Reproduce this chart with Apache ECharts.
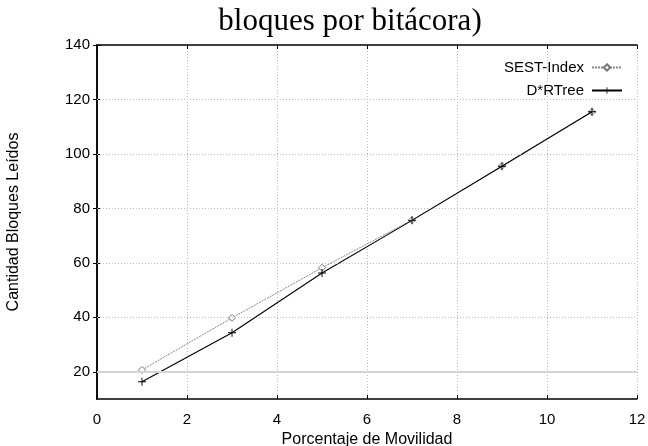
<!DOCTYPE html>
<html>
<head>
<meta charset="utf-8">
<script src="https://cdn.jsdelivr.net/npm/echarts@6/dist/echarts.min.js"></script>
<style>
  html, body { margin: 0; padding: 0; background: #fff; }
  #chart { width: 648px; height: 446px; }
</style>
</head>
<body>
<div id="chart"></div>
<script>
// datos
var movilidad = [1, 3, 5, 7, 9, 11]
var sestIndex = [20.7, 39.8, 58.2, 75.7, 95.6, 115.4]
var dRTree = [16.3, 34.3, 56.3, 75.6, 95.5, 115.5]
var yTicks = [20, 40, 60, 80, 100, 120, 140]

function pares (xs, ys) {
  return xs.map(function (x, i) { return [x, ys[i]] })
}

var myChart = echarts.init(document.getElementById('chart'))
var fuente = 'Liberation Sans, Arial, sans-serif'

var option = {
  backgroundColor: '#fff',
  animation: false,
  title: {
    text: 'bloques por bitácora)',
    left: 345,
    top: 1,
    textAlign: 'center',
    textStyle: { fontFamily: 'Liberation Serif, Times New Roman, serif', fontSize: 31, fontWeight: 'normal', color: '#000' }
  },
  legend: {
    orient: 'vertical',
    right: 20,
    top: 55,
    align: 'right',
    itemWidth: 30,
    itemHeight: 8,
    itemGap: 8,
    textStyle: { fontFamily: fuente, fontSize: 15, color: '#000', padding: [0, 3, 0, 0] },
    data: ['SEST-Index', 'D*RTree']
  },
  grid: { left: 97, right: 11, top: 45, bottom: 47, outerBoundsMode: 'none' },
  xAxis: [
    {
      type: 'value',
      min: 0,
      max: 12,
      interval: 2,
      name: 'Porcentaje de Movilidad',
      nameLocation: 'middle',
      nameGap: 30,
      nameTextStyle: { fontFamily: fuente, fontSize: 16, color: '#000' },
      axisLine: { lineStyle: { color: '#000', width: 1.5 } },
      axisTick: { inside: true, length: 4, lineStyle: { color: '#000' } },
      axisLabel: { margin: 13, fontFamily: fuente, fontSize: 15, color: '#000' },
      splitLine: { show: true, lineStyle: { color: '#bbb', type: [1, 2], width: 1 } }
    },
    {
      type: 'value',
      position: 'top',
      min: 0,
      max: 12,
      interval: 2,
      axisLine: { show: true, lineStyle: { color: '#000', width: 1.5 } },
      axisTick: { show: true, inside: true, length: 4, lineStyle: { color: '#000' } },
      axisLabel: { show: false },
      splitLine: { show: false }
    }
  ],
  yAxis: [
    {
      type: 'value',
      min: 10,
      max: 140,
      name: 'Cantidad Bloques Leídos',
      nameLocation: 'middle',
      nameGap: 75,
      nameTextStyle: { fontFamily: fuente, fontSize: 16, color: '#000' },
      axisLine: { show: true, lineStyle: { color: '#000', width: 1.5 } },
      axisTick: { show: true, inside: true, length: 4, customValues: yTicks, lineStyle: { color: '#000' } },
      axisLabel: { margin: 7, fontFamily: fuente, fontSize: 15, color: '#000', customValues: yTicks },
      splitLine: { show: false }
    },
    {
      type: 'value',
      position: 'right',
      min: 10,
      max: 140,
      axisLine: { show: true, lineStyle: { color: '#000', width: 1.5 } },
      axisTick: { show: true, inside: true, length: 4, customValues: yTicks, lineStyle: { color: '#000' } },
      axisLabel: { show: false, customValues: yTicks },
      splitLine: { show: false }
    }
  ],
  series: [
    {
      // lineas de rejilla horizontales
      name: 'rejilla',
      type: 'line',
      data: [],
      silent: true,
      markLine: {
        silent: true,
        symbol: 'none',
        label: { show: false },
        data: yTicks.slice(1, 6).map(function (v) {
          return { yAxis: v, lineStyle: { color: '#bbb', type: [1, 2], width: 1 } }
        }).concat([{ yAxis: 20, lineStyle: { color: '#d4d4d4', type: 'solid', width: 2 } }])
      }
    },
    {
      name: 'SEST-Index',
      type: 'line',
      data: pares(movilidad, sestIndex),
      symbol: 'diamond',
      symbolSize: 7,
      itemStyle: { color: '#fff', borderColor: '#777', borderWidth: 1 },
      lineStyle: { color: '#888', width: 1, type: [2, 1] },
      z: 3
    },
    {
      name: 'D*RTree',
      type: 'line',
      data: pares(movilidad, dRTree),
      symbol: 'path://M4.4,0H5.6V4.4H10V5.6H5.6V10H4.4V5.6H0V4.4H4.4Z',
      symbolSize: 8,
      itemStyle: { color: '#000' },
      lineStyle: { color: '#000', width: 1.1 },
      z: 4
    }
  ]
}

myChart.setOption(option)
</script>
</body>
</html>
